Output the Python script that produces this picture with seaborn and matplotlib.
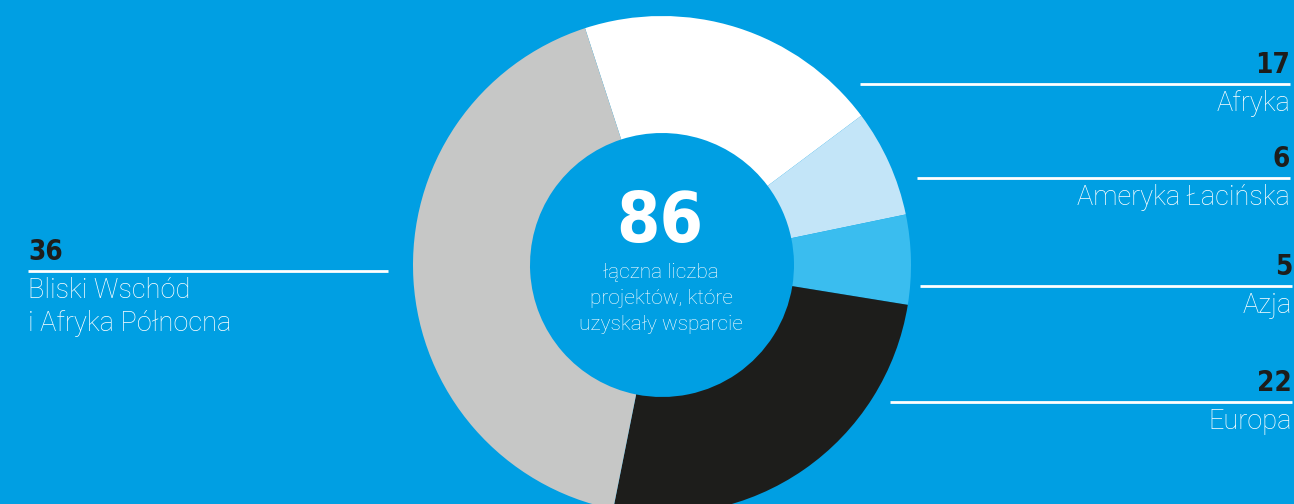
import matplotlib
matplotlib.use("Agg")
import matplotlib.pyplot as plt
import seaborn as sns

# Dane: liczba projektów wg regionu
regions = ["Afryka", "Ameryka Łacińska", "Azja", "Europa", "Bliski Wschód\ni Afryka Północna"]
counts = [17, 6, 5, 22, 36]
slice_colors = ["#FFFFFF", "#C3E5F8", "#3ABDEF", "#1D1D1B", "#C6C7C6"]
total_caption = "łączna liczba\nprojektów, które\nuzyskały wsparcie"

bg = "#009FE3"
W, H = 1294, 504

sns.set_style("white")
plt.rcParams["font.family"] = ["Roboto", "DejaVu Sans"]

fig = plt.figure(figsize=(W / 100, H / 100), dpi=100, facecolor=bg)
ax = fig.add_axes([0, 0, 1, 1])
ax.set_facecolor(bg)

# Wykres pierścieniowy (współrzędne w pikselach, y od dołu)
cx, cy, r_out, r_in = 662, H - 265, 249, 132
ax.pie(counts, colors=slice_colors, startangle=108, counterclock=False,
       center=(cx, cy), radius=r_out, frame=True,
       wedgeprops=dict(width=r_out - r_in, linewidth=0))
ax.set_xlim(0, W)
ax.set_ylim(0, H)
ax.set_aspect("equal")
ax.axis("off")

num_font = dict(family=["Liberation Sans Narrow", "DejaVu Sans"], fontweight="bold",
                fontstretch="condensed")
lab_font = dict(family=["Roboto", "DejaVu Sans"], fontweight="light")

# Środek
ax.text(cx - 2, H - 242, str(sum(counts)), color="white", fontsize=50,
        ha="center", va="baseline", **num_font)
for i, line in enumerate(total_caption.split("\n")):
    ax.text(cx - 1, H - (278 + 26 * i), line, color="white", fontsize=15,
            ha="center", va="baseline", **lab_font)

# Etykiety: (y linii, x początku linii, x końca, strona)
layout = [
    (84, 860, 1290, "right"),
    (178, 917, 1290, "right"),
    (286, 920, 1292, "right"),
    (402, 890, 1292, "right"),
    (271, 28, 388, "left"),
]

for name, val, (ly, x0, x1, side) in zip(regions, counts, layout):
    ax.plot([x0, x1], [H - ly, H - ly], color="white", lw=2, solid_capstyle="butt")
    tx = x1 if side == "right" else x0
    ax.text(tx, H - (ly - 11), str(val), color="#1D1D1B", fontsize=20,
            ha=side, va="baseline", **num_font)
    for i, line in enumerate(name.split("\n")):
        ax.text(tx, H - (ly + 27 + 33 * i), line, color="white", fontsize=19.5,
                ha=side, va="baseline", **lab_font)

fig.savefig("out.png", dpi=100, facecolor=bg)
